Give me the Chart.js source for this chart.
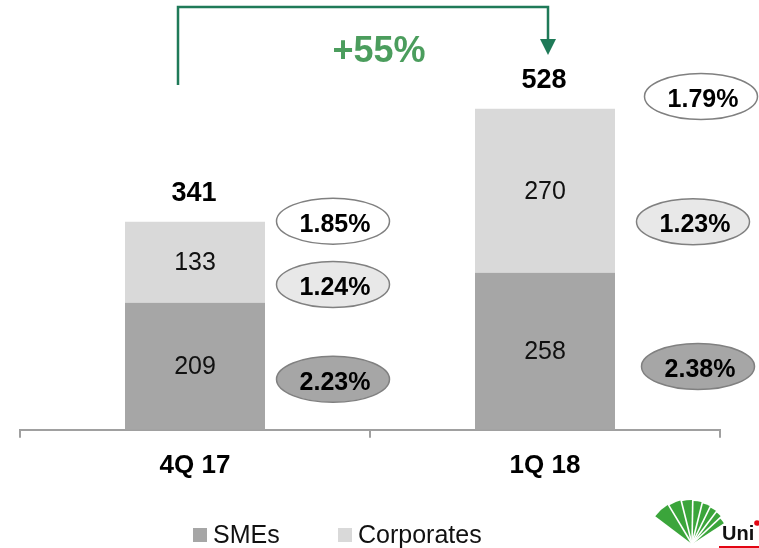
<!DOCTYPE html>
<html><head><meta charset="utf-8">
<script src="https://cdn.jsdelivr.net/npm/chart.js@4.4.1/dist/chart.umd.min.js"></script>
<style>html,body{margin:0;padding:0;background:#fff}#wrap{width:759px;height:548px;position:relative}</style>
</head><body><div id="wrap"><canvas id="c" width="759" height="548"></canvas></div>
<script>
const categories = ['4Q 17', '1Q 18'];
const smeValues = [209, 258];
const corporateValues = [133, 270];
const totalValues = [341, 528];
const smeRates = ['2.23%', '2.38%'];
const corporateRates = ['1.24%', '1.23%'];
const totalRates = ['1.85%', '1.79%'];
const growthLabel = '+55%';
const seriesNames = ['SMEs', 'Corporates'];

const FONT = "'Liberation Sans', Arial, Helvetica, sans-serif";
const SME_COLOR = '#a6a6a6';
const CORP_COLOR = '#d9d9d9';

// annotation layout (pixel offsets from category centre, y in axis units)
const bubbleLayout = [
  [{dx: 138, v: 83}, {dx: 138, v: 239}, {dx: 138, v: 343}],
  [{dx: 153, v: 104}, {dx: 148, v: 342}, {dx: 156, v: 548}]
];
const bubbleFills = [SME_COLOR, '#e8e8e8', '#ffffff'];

function drawLogo(ctx) {
  const px = 692, py = 544;
  const bounds = [-143, -121, -104, -89, -76, -64, -53, -43, -33];
  const radii = [46, 45, 44, 43, 42, 41, 40, 38];
  ctx.save();
  ctx.fillStyle = '#3ba53b';
  for (let i = 0; i < bounds.length - 1; i++) {
    const a0 = bounds[i] * Math.PI / 180, a1 = bounds[i + 1] * Math.PI / 180;
    ctx.beginPath();
    ctx.moveTo(px, py);
    ctx.arc(px, py, radii[i], a0, a1);
    ctx.closePath();
    ctx.fill();
  }
  ctx.strokeStyle = '#ffffff';
  ctx.lineWidth = 1.6;
  for (let i = 1; i < bounds.length - 1; i++) {
    const a = bounds[i] * Math.PI / 180;
    ctx.beginPath();
    ctx.moveTo(px, py);
    ctx.lineTo(px + 50 * Math.cos(a), py + 50 * Math.sin(a));
    ctx.stroke();
  }
  ctx.fillStyle = '#111';
  ctx.font = 'bold 20px ' + FONT;
  ctx.textAlign = 'left';
  ctx.textBaseline = 'alphabetic';
  ctx.fillText('Uni', 722, 540);
  ctx.fillStyle = '#e30613';
  ctx.beginPath();
  ctx.arc(757, 523, 2.8, 0, Math.PI * 2);
  ctx.fill();
  ctx.fillRect(719, 546, 40, 2);
  ctx.restore();
}

const overlay = {
  id: 'overlay',
  afterDatasetsDraw(chart) {
    const ctx = chart.ctx;
    const xs = chart.scales.x, ys = chart.scales.y;
    const m0 = chart.getDatasetMeta(0), m1 = chart.getDatasetMeta(1);
    ctx.save();
    // values inside bars
    ctx.font = '25px ' + FONT;
    ctx.fillStyle = '#111';
    ctx.textAlign = 'center';
    ctx.textBaseline = 'middle';
    [m0, m1].forEach((meta, di) => {
      meta.data.forEach((bar, i) => {
        const c = bar.getCenterPoint();
        const val = chart.data.datasets[di].data[i];
        ctx.fillText(String(val), c.x, c.y + 1);
      });
    });
    // totals
    ctx.font = 'bold 27px ' + FONT;
    ctx.fillStyle = '#000';
    m1.data.forEach((bar, i) => {
      ctx.fillText(String(totalValues[i]), bar.x - 1, bar.y - 28);
    });
    // rate bubbles
    const rateSets = [smeRates, corporateRates, totalRates];
    categories.forEach((cat, i) => {
      const cx0 = xs.getPixelForValue(i);
      bubbleLayout[i].forEach((b, k) => {
        const cx = cx0 + b.dx, cy = ys.getPixelForValue(b.v);
        ctx.beginPath();
        ctx.ellipse(cx, cy, 56.5, 23, 0, 0, Math.PI * 2);
        ctx.fillStyle = bubbleFills[k];
        ctx.fill();
        ctx.lineWidth = 1.5;
        ctx.strokeStyle = '#808080';
        ctx.stroke();
        ctx.fillStyle = '#000';
        ctx.font = 'bold 25px ' + FONT;
        ctx.fillText(rateSets[k][i], cx + 2, cy + 3.5);
      });
    });
    // growth arrow
    const xl = xs.getPixelForValue(0) - 17, xr = xs.getPixelForValue(1) + 3;
    const yt = 7;
    ctx.strokeStyle = '#1f7a58';
    ctx.lineWidth = 2.5;
    ctx.beginPath();
    ctx.moveTo(xl, 85);
    ctx.lineTo(xl, yt);
    ctx.lineTo(xr, yt);
    ctx.lineTo(xr, 42);
    ctx.stroke();
    ctx.fillStyle = '#1f7a58';
    ctx.beginPath();
    ctx.moveTo(xr - 8, 39);
    ctx.lineTo(xr + 8, 39);
    ctx.lineTo(xr, 55);
    ctx.closePath();
    ctx.fill();
    ctx.fillStyle = '#4b9d5d';
    ctx.font = 'bold 36px ' + FONT;
    ctx.fillText(growthLabel, 379, 52);
    // legend
    const legendItems = [
      {box: 193, text: 213, label: chart.data.datasets[0].label, color: chart.data.datasets[0].backgroundColor},
      {box: 338, text: 358, label: chart.data.datasets[1].label, color: chart.data.datasets[1].backgroundColor}
    ];
    ctx.font = '25px ' + FONT;
    ctx.textAlign = 'left';
    legendItems.forEach(it => {
      ctx.fillStyle = it.color;
      ctx.fillRect(it.box, 528, 14, 14);
      ctx.fillStyle = '#111';
      ctx.fillText(it.label, it.text, 536);
    });
    drawLogo(ctx);
    ctx.restore();
  }
};

new Chart(document.getElementById('c'), {
  type: 'bar',
  data: {
    labels: categories,
    datasets: [
      {label: seriesNames[0], data: smeValues, backgroundColor: SME_COLOR, borderWidth: 0, stack: 's'},
      {label: seriesNames[1], data: corporateValues, backgroundColor: CORP_COLOR, borderWidth: 0, stack: 's'}
    ]
  },
  options: {
    responsive: false,
    animation: false,
    devicePixelRatio: 1,
    categoryPercentage: 1,
    barPercentage: 0.4,
    layout: {padding: {left: 20, right: 39, top: 4, bottom: 55}},
    plugins: {legend: {display: false}, tooltip: {enabled: false}},
    scales: {
      x: {
        stacked: true,
        offset: true,
        grid: {display: true, offset: true, drawOnChartArea: false, drawTicks: true, tickLength: 8, color: '#a0a0a0', lineWidth: 2},
        border: {display: true, color: '#a0a0a0', width: 2},
        ticks: {color: '#000', padding: 12, font: {family: FONT, size: 26, weight: 'bold'}}
      },
      y: {
        stacked: true,
        display: false,
        min: 0,
        max: 700
      }
    }
  },
  plugins: [overlay]
});
</script>
</body></html>
